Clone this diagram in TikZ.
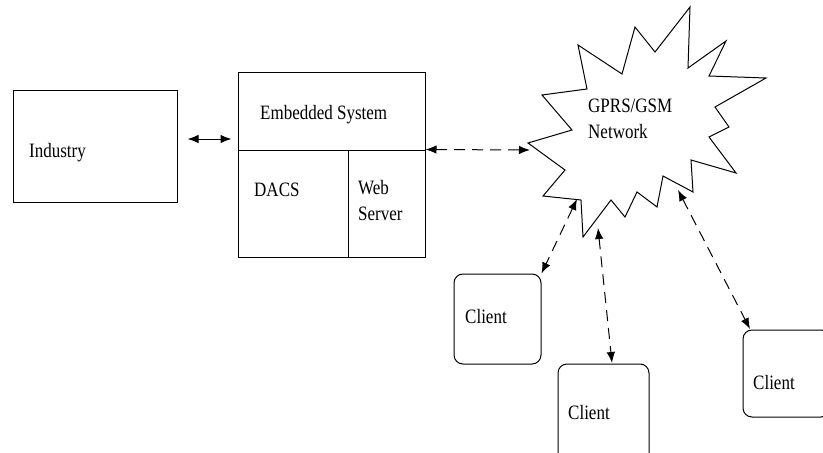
\documentclass[tikz,border=0pt]{standalone}
\usepackage{fontspec}
\usepackage{graphicx}
\setmainfont{Liberation Serif}
\usetikzlibrary{arrows.meta}
\newcommand\vtall[1]{\scalebox{1}[1.2]{#1}}
\begin{document}
\begin{tikzpicture}[x=1pt,y=-1pt,
  box/.style={draw, line width=1pt, inner sep=0pt},
  cbox/.style={draw, line width=1pt, rounded corners=9pt, inner sep=0pt, minimum width=87pt},
  lbl/.style={font=\fontsize{17}{26}\selectfont, inner sep=0pt, anchor=west, align=left},
  link/.style={line width=1pt, {Latex[length=11pt,width=8.5pt]}-{Latex[length=11pt,width=8.5pt]}},
  dlink/.style={link, dash pattern=on 11pt off 7pt}]
\useasboundingbox (0,0) rectangle (823,453);
\fill[white] (0,0) rectangle (823,453);

% Industry
\node[box, minimum width=164pt, minimum height=112pt] (ind) at (95,146) {};
\node[lbl] (indt) at (29,153) {\vtall{Industry}};

% Embedded system
\node[box, minimum width=187pt, minimum height=78pt] (top) at (331.5,111) {};
\node[box, minimum width=110pt, minimum height=107pt] (dacs) at (293,203.5) {};
\node[box, minimum width=77pt, minimum height=107pt] (ws) at (386.5,203.5) {};
\node[lbl] (topt) at (260,115) {\vtall{Embedded System}};
\node[lbl] (dacst) at (254,190) {\vtall{DACS}};
\node[lbl, text depth=0pt] (wst) at (358,200) {\vtall{Web}\\\vtall{Server}};

% Network cloud
\draw[line width=1pt, fill=white] (578,45) -- (622,74) -- (635,27) -- (655,52) -- (690,7) -- (688,68) -- (726,41) -- (709,76) -- (766,78) -- (715,107) -- (729,127) -- (709,137) -- (736,173) -- (691,160) -- (693,192) -- (663,176) -- (657,207) -- (637,192) -- (625,217) -- (611,200) -- (583,237) -- (581,200) -- (543,196) -- (565,170) -- (528,143) -- (572,130) -- (542,95) -- (587,89) -- cycle;
\node[lbl] (net) at (588,119) {\vtall{GPRS/GSM}\\\vtall{Network}};
\coordinate (netw) at (530,150);
\coordinate (net1) at (577,199);
\coordinate (net2) at (598,228);
\coordinate (net3) at (678,190);

% Clients
\node[cbox, minimum height=90pt] (c1) at (497.5,319) {};
\node[lbl] (c1t) at (465,317) {\vtall{Client}};
\node[cbox, minimum width=91pt, minimum height=100pt] (c2) at (603.5,414) {};
\node[lbl] (c2t) at (568,413) {\vtall{Client}};
\node[cbox, minimum height=87pt] (c3) at (786.5,373.5) {};
\node[lbl] (c3t) at (753,383) {\vtall{Client}};
\coordinate (c2in) at (612,363);
\coordinate (c3in) at (750,329);

% Connectors
\draw[link] ([xshift=10pt,yshift=7pt]ind.east) -- ([xshift=-6pt,yshift=7pt]ind.east -| top.west);
\draw[dlink] (ws.north east) -- (netw);
\draw[dlink] (net1) -- (c1.north east);
\draw[dlink] (net2) -- (c2in);
\draw[dlink] (net3) -- (c3in);
\end{tikzpicture}
\end{document}
